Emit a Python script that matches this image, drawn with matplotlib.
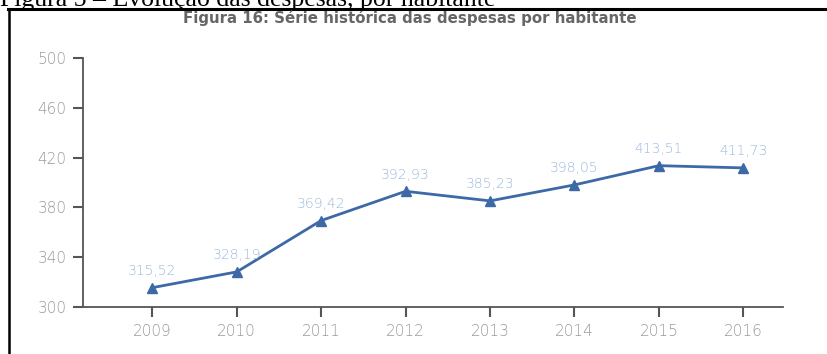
import matplotlib
matplotlib.use('Agg')
import matplotlib.pyplot as plt
from matplotlib.lines import Line2D

anos = ['2009', '2010', '2011', '2012', '2013', '2014', '2015', '2016']
despesas = [315.52, 328.19, 369.42, 392.93, 385.23, 398.05, 413.51, 411.73]
yticks = [300, 340, 380, 420, 460, 500]

linha_cor = '#3d6aa6'
rotulo_cor = '#9bb8dc'
texto_cor = '#9a9a9a'
eixo_cor = '#555555'

plt.rcParams['font.family'] = ['DejaVu Sans']

fig = plt.figure(figsize=(8.27, 3.54), dpi=100)
ax = fig.add_axes([0.1004, 0.1328, 0.8464, 0.7034])

x = list(range(len(anos)))
ax.plot(x, despesas, color=linha_cor, lw=2, marker='^', ms=7, mec=linha_cor, mfc=linha_cor)
for xi, v in zip(x, despesas):
    ax.annotate(f'{v:.2f}'.replace('.', ','), (xi, v), xytext=(0, 7), textcoords='offset points',
                ha='center', va='bottom', fontsize=10, color=rotulo_cor, fontweight='light')

ax.set_xlim(-0.82, 7.47)
ax.set_ylim(300, 500)
ax.set_xticks(x)
ax.set_xticklabels(anos)
ax.set_yticks(yticks)
ax.tick_params(axis='both', colors=eixo_cor, labelcolor=texto_cor, labelsize=11,
               length=7, width=1.5, pad=5)
for lab in ax.get_xticklabels() + ax.get_yticklabels():
    lab.set_fontweight('light')
for s in ['top', 'right']:
    ax.spines[s].set_visible(False)
for s in ['left', 'bottom']:
    ax.spines[s].set_color(eixo_cor)
    ax.spines[s].set_linewidth(1.3)

# title of the embedded chart
fig.text(0.495, 0.948, 'Figura 16: Série histórica das despesas por habitante',
         ha='center', va='center', fontsize=10.8, fontweight='bold', color='#666666')

# document caption, partly cut off at the top edge
fig.text(0.0, 1 - 6 / 354, 'Figura 5 – Evolução das despesas, por habitante',
         ha='left', va='baseline', fontsize=18.5, color='black', family='Liberation Serif')

# frame around the figure
fig.add_artist(Line2D([9 / 827, 9 / 827], [0, 1 - 9 / 354], color='black', lw=1.8,
                      transform=fig.transFigure))
fig.add_artist(Line2D([8 / 827, 1], [1 - 9 / 354, 1 - 9 / 354], color='black', lw=2.2,
                      transform=fig.transFigure))

fig.savefig('out.png', dpi=100)
